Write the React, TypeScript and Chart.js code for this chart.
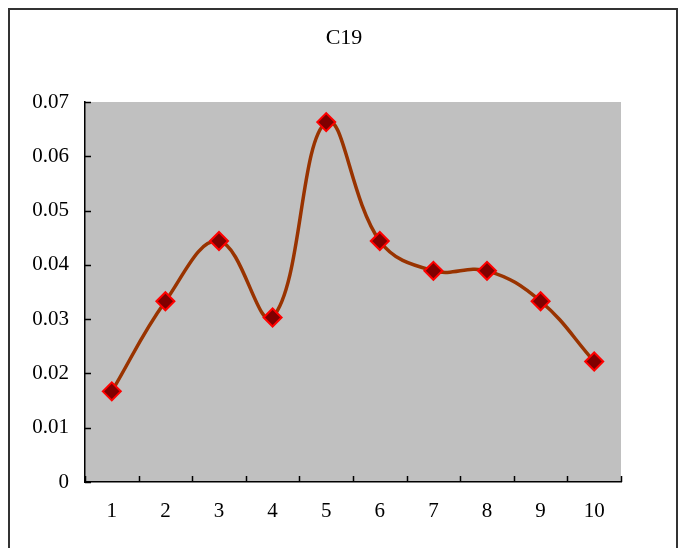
import React, { useEffect, useRef } from 'react';
import { Chart, registerables } from 'chart.js';

Chart.register(...registerables);

const titleText = 'C19';
const categories = ['1', '2', '3', '4', '5', '6', '7', '8', '9', '10'];
const values = [0.0167, 0.0333, 0.0444, 0.0303, 0.0663, 0.0444, 0.0389, 0.0389, 0.0333, 0.0222];
const yTicks = [0, 0.01, 0.02, 0.03, 0.04, 0.05, 0.06, 0.07];

const CW = 666;
const CH = 560;
const FONT = "'Liberation Serif', 'DejaVu Serif', serif";

export default function App() {
  const ref = useRef<HTMLCanvasElement>(null);

  useEffect(() => {
    if (!ref.current) return;

    const bgPlugin = {
      id: 'plotBg',
      beforeDraw(chart: any) {
        const { ctx, chartArea } = chart;
        ctx.save();
        ctx.fillStyle = '#C0C0C0';
        ctx.fillRect(chartArea.left, chartArea.top, chartArea.right - chartArea.left, chartArea.bottom - chartArea.top);
        ctx.restore();
      },
    };

    const titlePlugin = {
      id: 'centerTitle',
      afterDraw(chart: any) {
        const { ctx } = chart;
        ctx.save();
        ctx.fillStyle = '#000';
        ctx.font = `22px ${FONT}`;
        ctx.textAlign = 'center';
        ctx.textBaseline = 'middle';
        ctx.fillText(titleText, chart.width / 2 + 1, 28);
        ctx.restore();
      },
    };

    const innerTicks = {
      id: 'innerTicks',
      beforeDatasetsDraw(chart: any) {
        const { ctx, chartArea, scales } = chart;
        const xs = scales.x;
        const ys = scales.y;
        ctx.save();
        ctx.strokeStyle = '#000';
        ctx.lineWidth = 1.5;
        ctx.beginPath();
        yTicks.forEach((v) => {
          const py = Math.round(ys.getPixelForValue(v)) + 0.5;
          ctx.moveTo(chartArea.left, py);
          ctx.lineTo(chartArea.left + 6, py);
        });
        for (let i = 0; i <= categories.length; i++) {
          const px = Math.round(xs.getPixelForValue(i - 0.5)) + 0.5;
          ctx.moveTo(px, chartArea.bottom);
          ctx.lineTo(px, chartArea.bottom - 6);
        }
        ctx.stroke();
        ctx.restore();
      },
    };

    const chart = new Chart(ref.current, {
      type: 'line',
      data: {
        labels: categories,
        datasets: [
          {
            data: values,
            borderColor: '#993300',
            borderWidth: 3.5,
            tension: 0.4,
            pointStyle: 'rectRot',
            pointRadius: 9,
            pointHoverRadius: 9,
            pointBackgroundColor: '#800000',
            pointBorderColor: '#FF0000',
            pointBorderWidth: 2,
          },
        ],
      },
      options: {
        responsive: false,
        animation: false,
        layout: { padding: { left: 0, right: 55, top: 92, bottom: 0 } },
        plugins: {
          legend: { display: false },
          tooltip: { enabled: false },
          title: { display: false },
        },
        scales: {
          x: {
            type: 'category',
            offset: true,
            grid: { display: false, drawTicks: false },
            border: { display: true, color: '#000', width: 1.5 },
            ticks: { color: '#000', font: { family: FONT, size: 21 }, padding: 17, maxRotation: 0, autoSkip: false },
            afterFit(scale: any) {
              scale.height = CH - 472;
            },
          },
          y: {
            min: 0,
            max: 0.07,
            grid: { display: false, drawTicks: false },
            border: { display: true, color: '#000', width: 1.5 },
            afterBuildTicks(scale: any) {
              scale.ticks = yTicks.map((v) => ({ value: v }));
            },
            ticks: {
              color: '#000',
              font: { family: FONT, size: 21 },
              padding: 16,
              callback: (v: any) => (Number(v) === 0 ? '0' : Number(v).toFixed(2)),
            },
            afterFit(scale: any) {
              scale.width = 75;
            },
          },
        },
      },
      plugins: [bgPlugin, innerTicks, titlePlugin],
    });

    return () => chart.destroy();
  }, []);

  return (
    <div style={{ width: CW, height: CH, border: '2px solid #333', background: '#fff' }}>
      <canvas ref={ref} width={CW} height={CH} style={{ display: 'block', width: CW, height: CH }} />
    </div>
  );
}
